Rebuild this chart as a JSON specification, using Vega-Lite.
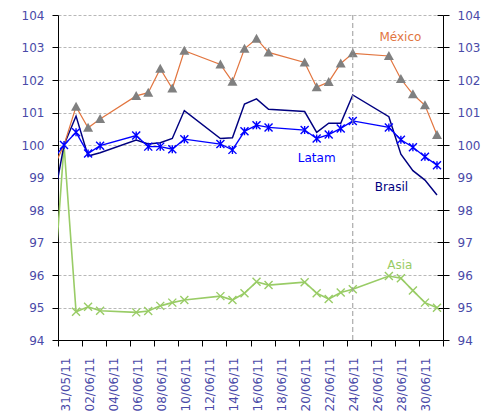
{
  "$schema": "https://vega.github.io/schema/vega-lite/v6.json",
  "width": 385,
  "height": 325,
  "autosize": {"type": "none"},
  "padding": {"left": 58, "top": 15, "right": 58, "bottom": 77},
  "config": {
    "view": {"stroke": null},
    "font": "DejaVu Sans",
    "axis": {"labelFont": "DejaVu Sans", "labelFontSize": 12, "labelColor": "#4a4aa8", "domainColor": "#000000", "tickColor": "#000000", "tickSize": 6}
  },
  "datasets": {
    "series": [
      {"date": "2011-05-30", "Mexico": 99.2, "Latam": 99.5, "Brasil": 98.0, "Asia": 94.8},
      {"date": "2011-05-31", "Mexico": 100.0, "Latam": 100.0, "Brasil": 100.0, "Asia": 100.0},
      {"date": "2011-06-01", "Mexico": 101.18, "Latam": 100.39, "Brasil": 100.89, "Asia": 94.87},
      {"date": "2011-06-02", "Mexico": 100.53, "Latam": 99.74, "Brasil": 99.66, "Asia": 95.02},
      {"date": "2011-06-03", "Mexico": 100.8, "Latam": 99.98, "Brasil": 99.76, "Asia": 94.9},
      {"date": "2011-06-06", "Mexico": 101.51, "Latam": 100.29, "Brasil": 100.15, "Asia": 94.85},
      {"date": "2011-06-07", "Mexico": 101.61, "Latam": 99.95, "Brasil": 100.03, "Asia": 94.89},
      {"date": "2011-06-08", "Mexico": 102.35, "Latam": 99.95, "Brasil": 100.07, "Asia": 95.05},
      {"date": "2011-06-09", "Mexico": 101.74, "Latam": 99.87, "Brasil": 100.2, "Asia": 95.15},
      {"date": "2011-06-10", "Mexico": 102.9, "Latam": 100.18, "Brasil": 101.06, "Asia": 95.23},
      {"date": "2011-06-13", "Mexico": 102.48, "Latam": 100.03, "Brasil": 100.2, "Asia": 95.35},
      {"date": "2011-06-14", "Mexico": 101.95, "Latam": 99.85, "Brasil": 100.22, "Asia": 95.23},
      {"date": "2011-06-15", "Mexico": 102.96, "Latam": 100.42, "Brasil": 101.26, "Asia": 95.44},
      {"date": "2011-06-16", "Mexico": 103.27, "Latam": 100.61, "Brasil": 101.42, "Asia": 95.79},
      {"date": "2011-06-17", "Mexico": 102.85, "Latam": 100.54, "Brasil": 101.1, "Asia": 95.69},
      {"date": "2011-06-20", "Mexico": 102.54, "Latam": 100.46, "Brasil": 101.03, "Asia": 95.78},
      {"date": "2011-06-21", "Mexico": 101.78, "Latam": 100.2, "Brasil": 100.39, "Asia": 95.44},
      {"date": "2011-06-22", "Mexico": 101.94, "Latam": 100.32, "Brasil": 100.67, "Asia": 95.26},
      {"date": "2011-06-23", "Mexico": 102.51, "Latam": 100.51, "Brasil": 100.67, "Asia": 95.46},
      {"date": "2011-06-24", "Mexico": 102.82, "Latam": 100.74, "Brasil": 101.54, "Asia": 95.56},
      {"date": "2011-06-27", "Mexico": 102.74, "Latam": 100.54, "Brasil": 100.87, "Asia": 95.97},
      {"date": "2011-06-28", "Mexico": 102.03, "Latam": 100.16, "Brasil": 99.72, "Asia": 95.9},
      {"date": "2011-06-29", "Mexico": 101.56, "Latam": 99.93, "Brasil": 99.21, "Asia": 95.52},
      {"date": "2011-06-30", "Mexico": 101.22, "Latam": 99.64, "Brasil": 98.92, "Asia": 95.15},
      {"date": "2011-07-01", "Mexico": 100.31, "Latam": 99.38, "Brasil": 98.46, "Asia": 94.99}
    ],
    "labels": [
      {"date": "2011-06-27T23:00:00Z", "value": 103.31, "series": "Mexico", "label": "México"},
      {"date": "2011-06-21T00:00:00Z", "value": 99.59, "series": "Latam", "label": "Latam"},
      {"date": "2011-06-27T05:00:00Z", "value": 98.72, "series": "Brasil", "label": "Brasil"},
      {"date": "2011-06-27T22:00:00Z", "value": 96.31, "series": "Asia", "label": "Asia"}
    ],
    "marker": [{"date": "2011-06-24"}]
  },
  "encoding": {
    "x": {
      "field": "date",
      "type": "temporal",
      "title": null,
      "scale": {"type": "utc", "domain": [{"year": 2011, "month": 5, "date": 30, "hours": 12, "utc": true}, {"year": 2011, "month": 7, "date": 1, "hours": 12, "utc": true}]},
      "axis": {
        "values": [
          {"year": 2011, "month": 5, "date": 30, "hours": 12, "utc": true},
          {"year": 2011, "month": 6, "date": 1, "hours": 12, "utc": true},
          {"year": 2011, "month": 6, "date": 3, "hours": 12, "utc": true},
          {"year": 2011, "month": 6, "date": 5, "hours": 12, "utc": true},
          {"year": 2011, "month": 6, "date": 7, "hours": 12, "utc": true},
          {"year": 2011, "month": 6, "date": 9, "hours": 12, "utc": true},
          {"year": 2011, "month": 6, "date": 11, "hours": 12, "utc": true},
          {"year": 2011, "month": 6, "date": 13, "hours": 12, "utc": true},
          {"year": 2011, "month": 6, "date": 15, "hours": 12, "utc": true},
          {"year": 2011, "month": 6, "date": 17, "hours": 12, "utc": true},
          {"year": 2011, "month": 6, "date": 19, "hours": 12, "utc": true},
          {"year": 2011, "month": 6, "date": 21, "hours": 12, "utc": true},
          {"year": 2011, "month": 6, "date": 23, "hours": 12, "utc": true},
          {"year": 2011, "month": 6, "date": 25, "hours": 12, "utc": true},
          {"year": 2011, "month": 6, "date": 27, "hours": 12, "utc": true},
          {"year": 2011, "month": 6, "date": 29, "hours": 12, "utc": true},
          {"year": 2011, "month": 7, "date": 1, "hours": 12, "utc": true}
        ],
        "labelExpr": "time(datum.value) >= utc(2011,6,1) ? '' : utcFormat(time(datum.value) + 43200000, '%d/%m/%y')",
        "labelAngle": 270,
        "labelOffset": 7,
        "labelPadding": 11,
        "grid": false,
        "labelOverlap": false,
        "labelBound": false,
        "labelFlush": false
      }
    }
  },
  "layer": [
    {
      "data": {"name": "series"},
      "transform": [{"fold": ["Asia", "Brasil", "Mexico", "Latam"], "as": ["series", "value"]}],
      "mark": {"type": "line", "clip": true},
      "encoding": {
        "y": {
          "field": "value",
          "type": "quantitative",
          "title": null,
          "scale": {"domain": [94, 104], "nice": false, "zero": false},
          "axis": {"orient": "left", "values": [94, 95, 96, 97, 98, 99, 100, 101, 102, 103, 104], "format": "d", "labelPadding": 8, "grid": true, "gridColor": "#b8b8b8", "gridDash": [3, 2], "gridWidth": 1}
        },
        "color": {"field": "series", "type": "nominal", "legend": null, "scale": {"domain": ["Mexico", "Latam", "Brasil", "Asia"], "range": ["#e2753f", "#0000ff", "#000080", "#99cc66"]}},
        "strokeWidth": {"field": "series", "type": "nominal", "legend": null, "scale": {"domain": ["Mexico", "Latam", "Brasil", "Asia"], "range": [1.2, 1.6, 1.3, 1.4]}}
      }
    },
    {
      "data": {"name": "series"},
      "transform": [{"fold": ["Mexico"], "as": ["series", "value"]}, {"filter": "time(datum.date) > utc(2011,4,31)"}],
      "mark": {"type": "point", "shape": "M0,-1L1,0.8L-1,0.8Z", "size": 100, "filled": true, "color": "#808080", "opacity": 1, "clip": true},
      "encoding": {
        "y": {
          "field": "value",
          "type": "quantitative",
          "title": null,
          "scale": {"domain": [94, 104], "nice": false, "zero": false},
          "axis": {"orient": "right", "values": [94, 95, 96, 97, 98, 99, 100, 101, 102, 103, 104], "format": "d", "labelPadding": 8, "grid": false}
        }
      }
    },
    {
      "data": {"name": "series"},
      "transform": [{"fold": ["Latam"], "as": ["series", "value"]}, {"filter": "time(datum.date) >= utc(2011,4,31)"}],
      "mark": {"type": "point", "shape": "M-1,-1L1,1M-1,1L1,-1M0,-1L0,1", "size": 64, "filled": false, "color": "#0000ff", "strokeWidth": 1.4, "opacity": 1, "clip": true},
      "encoding": {
        "y": {"field": "value", "type": "quantitative", "scale": {"domain": [94, 104], "nice": false, "zero": false}, "axis": null}
      }
    },
    {
      "data": {"name": "series"},
      "transform": [{"fold": ["Asia"], "as": ["series", "value"]}, {"filter": "time(datum.date) > utc(2011,4,31)"}],
      "mark": {"type": "point", "shape": "M-1,-1L1,1M-1,1L1,-1", "size": 64, "filled": false, "color": "#99cc66", "strokeWidth": 1.4, "opacity": 1, "clip": true},
      "encoding": {
        "y": {"field": "value", "type": "quantitative", "scale": {"domain": [94, 104], "nice": false, "zero": false}, "axis": null}
      }
    },
    {
      "data": {"name": "marker"},
      "mark": {"type": "rule", "color": "#999999", "strokeDash": [5, 3], "strokeWidth": 1},
      "encoding": {}
    },
    {
      "data": {"name": "labels"},
      "mark": {"type": "text", "font": "DejaVu Sans", "fontSize": 12, "align": "center", "baseline": "middle"},
      "encoding": {
        "y": {
          "field": "value",
          "type": "quantitative",
          "scale": {"domain": [94, 104], "nice": false, "zero": false},
          "axis": {"orient": "left", "offset": -385, "domain": false, "labels": false, "grid": false, "title": null, "values": [94, 95, 96, 97, 98, 99, 100, 101, 102, 103, 104]}
        },
        "text": {"field": "label"},
        "color": {"field": "series", "type": "nominal", "legend": null}
      }
    }
  ],
  "resolve": {"scale": {"y": "independent"}}
}
